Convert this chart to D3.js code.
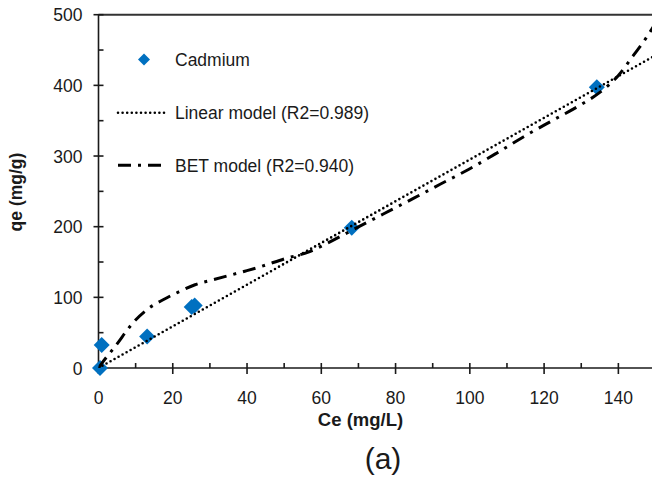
<!DOCTYPE html>
<html>
<head>
<meta charset="utf-8">
<script src="https://cdn.jsdelivr.net/npm/d3@7"></script>
<style>
  html, body { margin: 0; padding: 0; background: #fff; }
  svg { display: block; }
  text { font-family: "Liberation Sans", Arial, sans-serif; fill: #1a1a1a; }
</style>
</head>
<body>
<svg id="chart" width="652" height="478"></svg>
<script>
// ---- data ----
const cadmiumCe = [0.4, 0.85, 13.1, 25.1, 25.9, 68.2, 134.2];
const cadmiumQe = [0, 32.5, 44.6, 86.5, 88.5, 198.6, 397.5];

const linearCe = [0, 150];
const linearQe = [0, 442.5];

const betCe = [0, 0.8, 4.4, 9.8, 13.4, 17.4, 21.5, 26, 30.9, 39.4, 43.9, 50.2, 56.5, 61, 68.6, 76.7, 84.8, 92, 100, 107.2, 114.4, 122.5, 129.7, 135, 140, 144, 147.6, 150];
const betQe = [0, 6, 30, 67, 84, 96.6, 107.4, 117.8, 125, 137, 143.8, 154.7, 164, 175, 195.8, 218, 240, 260, 282, 304, 327, 351, 372, 390, 414, 442, 468, 488];

const xTicks = [0, 20, 40, 60, 80, 100, 120, 140];
const yTicks = [0, 100, 200, 300, 400, 500];
const xMinor = [10, 30, 50, 70, 90, 110, 130, 150];
const yMinor = [50, 150, 250, 350, 450];

const legendLabels = ["Cadmium", "Linear model (R2=0.989)", "BET model (R2=0.940)"];

// ---- layout ----
const svg = d3.select("#chart");
const x = d3.scaleLinear().domain([0, 150]).range([98.5, 655.5]);
const y = d3.scaleLinear().domain([0, 500]).range([368, 14.7]);
const blue = "#0070C0";
const axisCol = "#1a1a1a";

svg.append("defs").append("clipPath").attr("id", "plotclip")
  .append("rect").attr("x", x(0)).attr("y", y(500)).attr("width", x(150) - x(0)).attr("height", y(0) - y(500));

// frame (top)
svg.append("line").attr("x1", x(0)).attr("x2", 652).attr("y1", y(500)).attr("y2", y(500))
  .attr("stroke", "#333").attr("stroke-width", 2);

// x axis
const gx = svg.append("g").attr("transform", `translate(0,${y(0)})`);
gx.append("line").attr("x1", x(0) - 4).attr("x2", 652).attr("stroke", axisCol).attr("stroke-width", 1.6);
gx.selectAll(".maj").data(xTicks).join("line")
  .attr("x1", d => x(d)).attr("x2", d => x(d)).attr("y1", -5).attr("y2", 6)
  .attr("stroke", axisCol).attr("stroke-width", 1.6);
gx.selectAll(".min").data(xMinor).join("line")
  .attr("x1", d => x(d)).attr("x2", d => x(d)).attr("y1", -5).attr("y2", 0)
  .attr("stroke", axisCol).attr("stroke-width", 1.6);
gx.selectAll("text").data(xTicks).join("text")
  .attr("x", d => x(d)).attr("y", 36).attr("text-anchor", "middle")
  .attr("font-size", 17.5).text(d => d);

// y axis
const gy = svg.append("g").attr("transform", `translate(${x(0)},0)`);
gy.append("line").attr("y1", y(500)).attr("y2", y(0) + 5).attr("stroke", axisCol).attr("stroke-width", 1.6);
gy.selectAll(".maj").data(yTicks).join("line")
  .attr("y1", d => y(d)).attr("y2", d => y(d)).attr("x1", -5).attr("x2", 5)
  .attr("stroke", axisCol).attr("stroke-width", 1.6);
gy.selectAll(".min").data(yMinor).join("line")
  .attr("y1", d => y(d)).attr("y2", d => y(d)).attr("x1", 0).attr("x2", 5)
  .attr("stroke", axisCol).attr("stroke-width", 1.6);
gy.selectAll("text").data(yTicks).join("text")
  .attr("x", -16).attr("y", d => y(d) + 6.5).attr("text-anchor", "end")
  .attr("font-size", 17.5).text(d => d);

// axis titles
svg.append("text").attr("x", 360.5).attr("y", 426).attr("text-anchor", "middle")
  .attr("font-size", 18.5).attr("font-weight", "bold").text("Ce (mg/L)");
svg.append("text").attr("transform", "translate(22,192) rotate(-90)").attr("text-anchor", "middle")
  .attr("font-size", 17.5).attr("font-weight", "bold").text("qe (mg/g)");
svg.append("text").attr("x", 383).attr("y", 469).attr("text-anchor", "middle")
  .attr("font-size", 30).text("(a)");

// points
const diamond = (cx, cy, r) => `M${cx},${cy - r}L${cx + r},${cy}L${cx},${cy + r}L${cx - r},${cy}Z`;
svg.append("g").selectAll("path").data(cadmiumCe.map((c, i) => [c, cadmiumQe[i]])).join("path")
  .attr("d", d => diamond(x(d[0]), y(d[1]), 8)).attr("fill", blue);

// lines
const line = d3.line().x(d => x(d[0])).y(d => y(d[1]));
const plotLines = svg.append("g").attr("clip-path", "url(#plotclip)");
plotLines.append("path").datum(linearCe.map((c, i) => [c, linearQe[i]]))
  .attr("d", line).attr("fill", "none").attr("stroke", "#000").attr("stroke-width", 2.6)
  .attr("stroke-linecap", "round").attr("stroke-dasharray", "0,4.6");
plotLines.append("path").datum(betCe.map((c, i) => [c, betQe[i]]))
  .attr("d", line.curve(d3.curveMonotoneX)).attr("fill", "none").attr("stroke", "#000").attr("stroke-width", 3)
  .attr("stroke-dasharray", "13,7,3,7");

// legend
const lg = svg.append("g");
lg.append("path").attr("d", diamond(144, 59.5, 6)).attr("fill", blue);
lg.append("line").attr("x1", 118).attr("x2", 167).attr("y1", 112.7).attr("y2", 112.7)
  .attr("stroke", "#000").attr("stroke-width", 2.6).attr("stroke-linecap", "round").attr("stroke-dasharray", "0,4.6");
lg.append("line").attr("x1", 118).attr("x2", 163).attr("y1", 165.3).attr("y2", 165.3)
  .attr("stroke", "#000").attr("stroke-width", 3).attr("stroke-dasharray", "13,7,3,7");
lg.selectAll("text").data(legendLabels).join("text")
  .attr("x", 175).attr("y", (d, i) => 66 + i * 53).attr("font-size", 17.5).text(d => d);
</script>
</body>
</html>
